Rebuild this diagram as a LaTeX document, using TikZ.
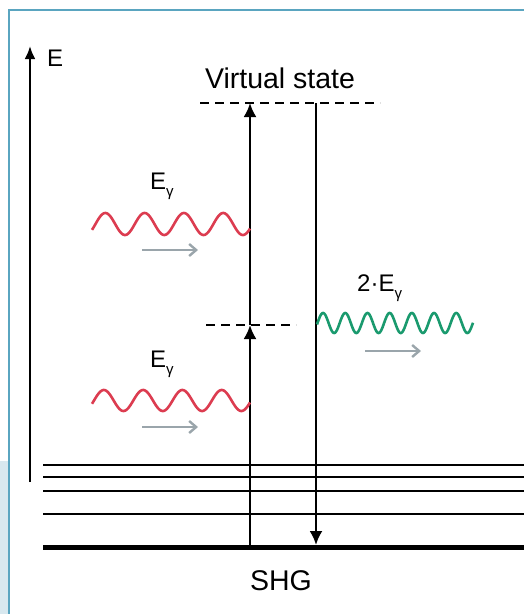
\documentclass[tikz,border=0pt]{standalone}
\usepackage{fontspec}
\setmainfont{Liberation Sans}
\usetikzlibrary{arrows.meta}
\definecolor{framecol}{HTML}{5AA5C0}
\definecolor{panelcol}{HTML}{D8E8EF}
\definecolor{wavered}{HTML}{DC3C50}
\definecolor{wavegreen}{HTML}{1A9A6E}
\definecolor{arrgray}{HTML}{9AA5AB}
\tikzset{
  level/.style={line width=2.4pt},
  ground/.style={line width=5pt},
  trans/.style={line width=2.4pt},
  bigtip/.style={-{Latex[length=14pt,width=13pt]}},
  dashline/.style={line width=2.2pt, dash pattern=on 9pt off 6pt},
  redwave/.style={wavered, line width=2.6pt},
  greenwave/.style={wavegreen, line width=2.6pt},
  dirarrow/.style={arrgray, line width=2.4pt, -{Straight Barb[length=7pt,width=12pt]}},
  lab/.style={inner sep=0pt, font=\fontsize{28.5}{32}\selectfont},
  elab/.style={inner sep=0pt, font=\fontsize{24}{28}\selectfont}
}
\newcommand{\gsub}{\raisebox{-7pt}{\fontsize{15}{15}\selectfont γ}}
\begin{document}
\begin{tikzpicture}[x=1pt,y=-1pt]
\useasboundingbox (0,0) rectangle (523,614);
% frame and panel
\fill[panelcol] (0,461) rectangle (7.5,614);
\draw[framecol, line width=2.2pt] (9,616) -- (9,10) -- (525,10);

% energy axis
\coordinate (ax0) at (30,482);
\coordinate (ax1) at (30,46);
\draw[line width=2.4pt, -{Latex[length=13pt,width=11pt]}] (ax0) -- (ax1);
\node[elab, anchor=west] (E) at (47,58) {E};

% levels
\foreach \yy/\nm in {465/l1,477/l2,491/l3,514/l4}{
  \coordinate (\nm a) at (43,\yy);
  \coordinate (\nm b) at (525,\yy);
  \draw[level] (\nm a) -- (\nm b);
}
\coordinate (g0) at (43,547);
\coordinate (g1) at (525,547);
\draw[ground] (g0) -- (g1);

% virtual states
\coordinate (vs0) at (200,103);
\coordinate (vs1) at (380,103);
\draw[dashline] (vs0) -- (vs1);
\coordinate (ms0) at (206,325);
\coordinate (ms1) at (296,325);
\draw[dashline] (ms0) -- (ms1);
\node[lab] (vstext) at (280,78) {Virtual state};

% transitions
\coordinate (up0) at (250,547);
\coordinate (upm) at (250,325);
\coordinate (up1) at (250,103);
\draw[trans, bigtip] (up0) -- (upm);
\draw[trans, bigtip] (upm) -- (up1);
\coordinate (dn0) at (316,103);
\coordinate (dn1) at (316,545);
\draw[trans, bigtip] (dn0) -- (dn1);

% photons
\draw[redwave] plot[domain=92:250, samples=240] (\x, {224 - 11*sin(9.1603*(\x-95.5))});
\draw[redwave] plot[domain=92:250, samples=240] (\x, {400.5 - 10.5*sin(9.1603*(\x-94))});
\draw[greenwave] plot[domain=317:473, samples=300] (\x, {323 - 10*sin(16.216*(\x-317.5))});

\coordinate (a1s) at (142,250); \coordinate (a1e) at (198,250);
\draw[dirarrow] (a1s) -- (a1e);
\coordinate (a2s) at (142,427); \coordinate (a2e) at (198,427);
\draw[dirarrow] (a2s) -- (a2e);
\coordinate (a3s) at (365,351); \coordinate (a3e) at (421,351);
\draw[dirarrow] (a3s) -- (a3e);

\node[elab, anchor=west] (eg1) at (150,186) {E\gsub};
\node[elab, anchor=west] (eg2) at (150,364) {E\gsub};
\node[elab, anchor=west] (eg3) at (357,288) {2·E\gsub};

\node[lab] (shg) at (281,581) {SHG};
\end{tikzpicture}
\end{document}
